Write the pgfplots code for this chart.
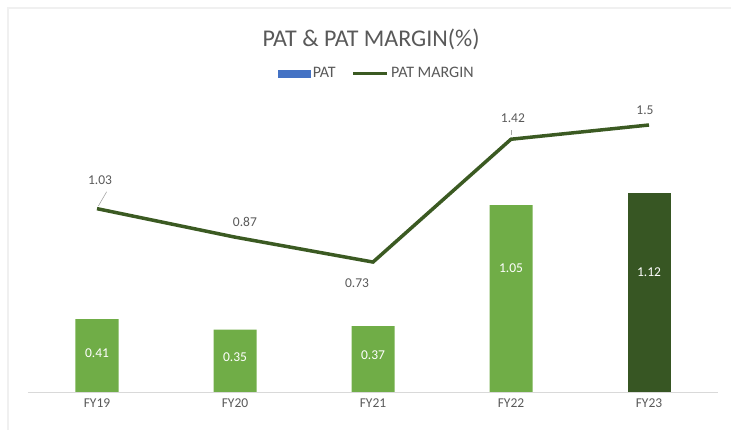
\documentclass[border=0pt]{standalone}
\usepackage{fontspec}
\setmainfont{Carlito}
\usepackage{pgfplots}
\pgfplotsset{compat=1.18}

\definecolor{barlight}{HTML}{70AD47}
\definecolor{bardark}{HTML}{375623}
\definecolor{lineg}{HTML}{3B5A22}
\definecolor{patblue}{HTML}{4472C4}
\definecolor{txt}{HTML}{595959}

\begin{document}
\begin{tikzpicture}
\useasboundingbox (0,0) rectangle (731pt,430pt);
\draw[gray!12, line width=1.5pt] (8pt,0) -- (8pt,422pt) -- (731pt,422pt);

\node[text=txt, font=\fontsize{24}{26}\selectfont] at (371pt,391pt) {PAT \& PAT MARGIN(\%)};

\begin{axis}[
  at={(28pt,38pt)}, anchor=south west,
  scale only axis, width=690pt, height=293.7pt,
  xmin=-0.5, xmax=4.5, ymin=0, ymax=1.65,
  axis y line=none, axis x line*=bottom,
  x axis line style={draw=gray!30, line width=0.8pt, -},
  xtick={0,1,2,3,4}, xticklabels={FY19,FY20,FY21,FY22,FY23},
  xtick style={draw=none},
  ticklabel style={font=\fontsize{13.5}{15}\selectfont, text=txt},
  xticklabel style={yshift=-3pt},
  legend style={at={(0.5,1.0)}, anchor=center, xshift=4pt, yshift=25pt, draw=none,
    font=\fontsize{16}{18}\selectfont, text=txt,
    /tikz/every even column/.append style={column sep=14pt}},
  legend columns=2,
  clip=false,
]
\addlegendimage{legend image code/.code={\fill[patblue] (0pt,-3.5pt) rectangle (32pt,3.5pt);}}
\addlegendentry{PAT}
\addlegendimage{legend image code/.code={\draw[lineg, line width=3.5pt] (0pt,0pt) -- (34pt,0pt);}}
\addlegendentry{PAT MARGIN}

% PAT bars
\addplot[ybar, bar width=43pt, fill=barlight, draw=none, forget plot]
  coordinates {(0,0.41) (1,0.35) (2,0.37) (3,1.05)};
\addplot[ybar, bar width=43pt, fill=bardark, draw=none, forget plot]
  coordinates {(4,1.12)};

% PAT margin line
\addplot[lineg, line width=3.5pt, mark=none, forget plot]
  coordinates {(0,1.03) (1,0.87) (2,0.73) (3,1.42) (4,1.5)};

% leader lines
\draw[gray!70, line width=0.6pt] (axis cs:0.01,1.045) -- (axis cs:0.07,1.125);
\draw[gray!70, line width=0.6pt] (axis cs:3.0,1.445) -- (axis cs:3.0,1.47);

% line labels
\addplot[draw=none, mark=none, forget plot, nodes near coords,
  point meta=explicit symbolic, nodes near coords align={center},
  every node near coord/.append style={font=\fontsize{13.5}{15}\selectfont, text=txt}]
  coordinates {(0.022,1.19)[1.03] (1.072,0.955)[0.87] (1.884,0.612)[0.73]
               (3.014,1.539)[1.42] (3.971,1.584)[1.5]};

% bar labels
\addplot[draw=none, mark=none, forget plot, nodes near coords,
  point meta=explicit symbolic, nodes near coords align={center},
  every node near coord/.append style={font=\fontsize{13.5}{15}\selectfont, text=white}]
  coordinates {(0,0.22)[0.41] (1,0.197)[0.35] (2,0.208)[0.37]
               (3,0.697)[1.05] (4,0.674)[1.12]};
\end{axis}
\end{tikzpicture}
\end{document}
